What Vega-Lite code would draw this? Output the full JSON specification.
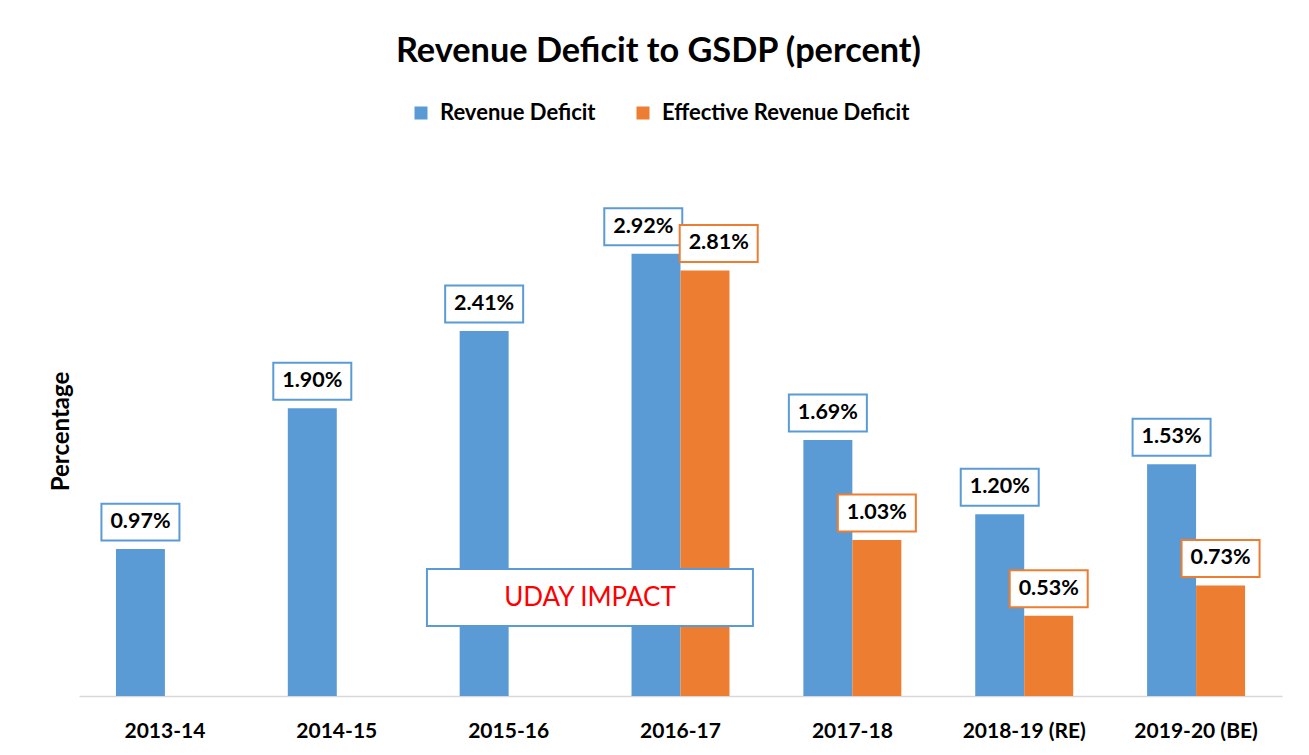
{
  "$schema": "https://vega.github.io/schema/vega-lite/v6.json",
  "autosize": "none",
  "width": 1203,
  "height": 530,
  "padding": {"left": 79, "top": 166, "right": 27, "bottom": 59},
  "background": "white",
  "config": {"view": {"stroke": null}},
  "title": {"text": "Revenue Deficit to GSDP (percent)", "fontSize": 34.3, "fontWeight": "bold", "font": "Lato", "color": "black", "anchor": "middle", "dx": -22, "offset": 33},
  "datasets": {
    "main": [
      {"year": "2013-14", "series": "Revenue Deficit", "value": 0.97},
      {"year": "2014-15", "series": "Revenue Deficit", "value": 1.90},
      {"year": "2015-16", "series": "Revenue Deficit", "value": 2.41},
      {"year": "2016-17", "series": "Revenue Deficit", "value": 2.92},
      {"year": "2016-17", "series": "Effective Revenue Deficit", "value": 2.81},
      {"year": "2017-18", "series": "Revenue Deficit", "value": 1.69},
      {"year": "2017-18", "series": "Effective Revenue Deficit", "value": 1.03},
      {"year": "2018-19 (RE)", "series": "Revenue Deficit", "value": 1.20},
      {"year": "2018-19 (RE)", "series": "Effective Revenue Deficit", "value": 0.53},
      {"year": "2019-20 (BE)", "series": "Revenue Deficit", "value": 1.53},
      {"year": "2019-20 (BE)", "series": "Effective Revenue Deficit", "value": 0.73}
    ],
    "note": [
      {"label": "UDAY IMPACT", "year": "2015-16", "value": 0.65}
    ]
  },
  "data": {"name": "main"},
  "encoding": {
    "x": {
      "field": "year", "type": "nominal",
      "sort": ["2013-14", "2014-15", "2015-16", "2016-17", "2017-18", "2018-19 (RE)", "2019-20 (BE)"],
      "scale": {"paddingInner": 0.43, "paddingOuter": 0.215},
      "axis": {"title": null, "labelAngle": 0, "ticks": false, "labelFontSize": 21, "labelFontWeight": "bold", "labelFont": "Lato", "labelColor": "black", "labelPadding": 24, "domainColor": "#D9D9D9", "domainWidth": 1.5, "grid": false}
    },
    "y": {
      "field": "value", "type": "quantitative",
      "scale": {"domain": [0, 3.5], "nice": false, "zero": true},
      "axis": {"title": "Percentage", "labels": false, "ticks": false, "domain": false, "grid": false, "titleFontSize": 24, "titleFontWeight": "bold", "titleFont": "Lato", "titleColor": "black", "titlePadding": 6}
    }
  },
  "layer": [
    {
      "mark": {"type": "bar"},
      "encoding": {
        "xOffset": {"field": "series", "type": "nominal", "sort": ["Revenue Deficit", "Effective Revenue Deficit"], "scale": {"paddingInner": 0, "paddingOuter": 0}},
        "color": {
          "field": "series", "type": "nominal",
          "scale": {"domain": ["Revenue Deficit", "Effective Revenue Deficit"], "range": ["#5B9BD5", "#ED7D31"]},
          "legend": {"orient": "none", "legendX": 331, "legendY": -64, "direction": "horizontal", "title": null, "symbolType": "square", "symbolSize": 169, "symbolStrokeWidth": 0, "labelFontSize": 22, "labelFont": "Lato", "labelFontWeight": "bold", "labelColor": "black", "labelLimit": 400, "columnPadding": 36, "labelOffset": 8}
        }
      }
    },
    {
      "transform": [{"filter": "datum.year != '2016-17'"}],
      "mark": {"type": "point", "shape": "M-1,-0.474L1,-0.474L1,0.474L-1,0.474Z", "size": 6084, "fill": "white", "fillOpacity": 1, "opacity": 1, "strokeWidth": 2, "yOffset": -27},
      "encoding": {
        "xOffset": {"field": "series", "type": "nominal", "sort": ["Revenue Deficit", "Effective Revenue Deficit"]},
        "stroke": {"field": "series", "type": "nominal", "scale": {"domain": ["Revenue Deficit", "Effective Revenue Deficit"], "range": ["#5B9BD5", "#ED7D31"]}, "legend": null}
      }
    },
    {
      "transform": [{"filter": "datum.year != '2016-17'"}, {"calculate": "format(datum.value, '.2f') + '%'", "as": "lbl"}],
      "mark": {"type": "text", "fontSize": 21.5, "fontWeight": "bold", "font": "Lato", "color": "black", "baseline": "middle", "align": "center", "yOffset": -27},
      "encoding": {
        "xOffset": {"field": "series", "type": "nominal", "sort": ["Revenue Deficit", "Effective Revenue Deficit"]},
        "text": {"field": "lbl", "type": "nominal"}
      }
    },
    {
      "transform": [{"filter": "datum.year == '2016-17' && datum.series == 'Revenue Deficit'"}],
      "mark": {"type": "point", "shape": "M-1,-0.474L1,-0.474L1,0.474L-1,0.474Z", "size": 6084, "fill": "white", "fillOpacity": 1, "opacity": 1, "strokeWidth": 2, "stroke": "#5B9BD5", "yOffset": -27},
      "encoding": {
        "x": {"field": "year", "type": "nominal", "bandPosition": 0.12, "sort": ["2013-14", "2014-15", "2015-16", "2016-17", "2017-18", "2018-19 (RE)", "2019-20 (BE)"]}
      }
    },
    {
      "transform": [{"filter": "datum.year == '2016-17' && datum.series == 'Revenue Deficit'"}, {"calculate": "format(datum.value, '.2f') + '%'", "as": "lbl"}],
      "mark": {"type": "text", "fontSize": 21.5, "fontWeight": "bold", "font": "Lato", "color": "black", "baseline": "middle", "align": "center", "yOffset": -27},
      "encoding": {
        "x": {"field": "year", "type": "nominal", "bandPosition": 0.12, "sort": ["2013-14", "2014-15", "2015-16", "2016-17", "2017-18", "2018-19 (RE)", "2019-20 (BE)"]},
        "text": {"field": "lbl", "type": "nominal"}
      }
    },
    {
      "transform": [{"filter": "datum.year == '2016-17' && datum.series == 'Effective Revenue Deficit'"}],
      "mark": {"type": "point", "shape": "M-1,-0.474L1,-0.474L1,0.474L-1,0.474Z", "size": 6084, "fill": "white", "fillOpacity": 1, "opacity": 1, "strokeWidth": 2, "stroke": "#ED7D31", "yOffset": -27},
      "encoding": {
        "x": {"field": "year", "type": "nominal", "bandPosition": 0.89, "sort": ["2013-14", "2014-15", "2015-16", "2016-17", "2017-18", "2018-19 (RE)", "2019-20 (BE)"]}
      }
    },
    {
      "transform": [{"filter": "datum.year == '2016-17' && datum.series == 'Effective Revenue Deficit'"}, {"calculate": "format(datum.value, '.2f') + '%'", "as": "lbl"}],
      "mark": {"type": "text", "fontSize": 21.5, "fontWeight": "bold", "font": "Lato", "color": "black", "baseline": "middle", "align": "center", "yOffset": -27},
      "encoding": {
        "x": {"field": "year", "type": "nominal", "bandPosition": 0.89, "sort": ["2013-14", "2014-15", "2015-16", "2016-17", "2017-18", "2018-19 (RE)", "2019-20 (BE)"]},
        "text": {"field": "lbl", "type": "nominal"}
      }
    },
    {
      "data": {"name": "note"},
      "mark": {"type": "point", "shape": "M-1,-0.175L1,-0.175L1,0.175L-1,0.175Z", "size": 106276, "fill": "white", "fillOpacity": 1, "opacity": 1, "strokeWidth": 2, "stroke": "#5B9BD5"},
      "encoding": {
        "x": {"field": "year", "type": "nominal", "bandPosition": 1.33, "sort": ["2013-14", "2014-15", "2015-16", "2016-17", "2017-18", "2018-19 (RE)", "2019-20 (BE)"]}
      }
    },
    {
      "data": {"name": "note"},
      "mark": {"type": "text", "fontSize": 26, "font": "Lato", "color": "#FF0000", "baseline": "middle", "align": "center"},
      "encoding": {
        "x": {"field": "year", "type": "nominal", "bandPosition": 1.33, "sort": ["2013-14", "2014-15", "2015-16", "2016-17", "2017-18", "2018-19 (RE)", "2019-20 (BE)"]},
        "text": {"field": "label", "type": "nominal"}
      }
    }
  ]
}
